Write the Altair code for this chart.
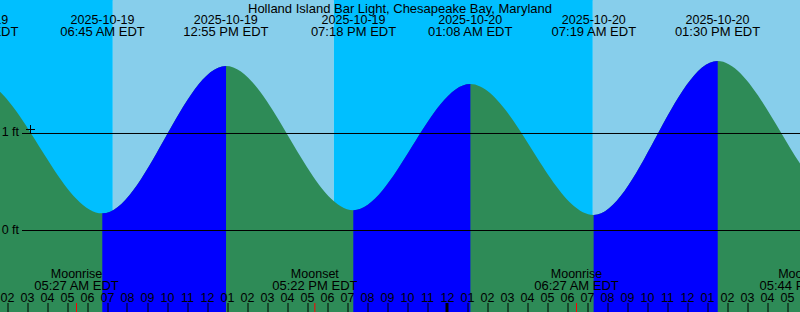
import altair as alt
import pandas as pd
from datetime import datetime

# ---------------- data ----------------
TITLE = "Holland Island Bar Light, Chesapeake Bay, Maryland"
DAY0 = "2025-10-19 12:00:00 AM"
VIEW_START = "2025-10-19 01:37:30 AM"
VIEW_END = "2025-10-20 05:37:30 PM"

TIDE_DATES = ["2025-10-19", "2025-10-19", "2025-10-19", "2025-10-19",
              "2025-10-20", "2025-10-20", "2025-10-20", "2025-10-20"]
TIDE_TIMES = ["12:26 AM EDT", "06:45 AM EDT", "12:55 PM EDT", "07:18 PM EDT",
              "01:08 AM EDT", "07:19 AM EDT", "01:30 PM EDT", "07:50 PM EDT"]
TIDE_FEET = [1.56, 0.177, 1.696, 0.21, 1.51, 0.16, 1.747, 0.28]

MOON_DATES = ["2025-10-19", "2025-10-19", "2025-10-20", "2025-10-20"]
MOON_TIMES = ["05:27 AM EDT", "05:22 PM EDT", "06:27 AM EDT", "05:44 PM EDT"]
MOON_EVENTS = ["Moonrise", "Moonset", "Moonrise", "Moonset"]

SUN_DATES = ["2025-10-19", "2025-10-19", "2025-10-20"]
SUN_TIMES = ["07:16 AM EDT", "06:19 PM EDT", "07:16 AM EDT"]
SUN_EVENTS = ["Sunrise", "Sunset", "Sunrise"]

LEVEL_LINES = [0, 1]
NOW_DATE, NOW_TIME, NOW_FEET = "2025-10-19", "03:09 AM EDT", 1.041
Y_DOMAIN = [-0.840, 2.376]
HOUR_TICKS = list(range(2, 42))

# colours
NIGHT = "#00BFFF"
DAY = "#87CEEB"
FALLING = "#2E8B57"
RISING = "#0000FF"
FONT = "Liberation Sans"
FS = 12.5
FS_TIME = 13

W, H = 800, 312


def hours(date, tm):
    d0 = datetime.strptime(DAY0, "%Y-%m-%d %I:%M:%S %p")
    dt = datetime.strptime(f"{date} {tm.replace(' EDT', '')}", "%Y-%m-%d %I:%M %p")
    return (dt - d0).total_seconds() / 3600.0


def hours_s(s):
    d0 = datetime.strptime(DAY0, "%Y-%m-%d %I:%M:%S %p")
    return (datetime.strptime(s, "%Y-%m-%d %I:%M:%S %p") - d0).total_seconds() / 3600.0


x0, x1 = hours_s(VIEW_START), hours_s(VIEW_END)
base = Y_DOMAIN[0]

tide_h = [hours(d, t) for d, t in zip(TIDE_DATES, TIDE_TIMES)]

# sky bands
sun_h = [hours(d, t) for d, t in zip(SUN_DATES, SUN_TIMES)]
edges = [x0 - 2] + sun_h + [x1 + 2]
sky = pd.DataFrame({
    "h": edges[:-1],
    "h2": edges[1:],
    "c": [NIGHT if ev == "Sunrise" else DAY for ev in SUN_EVENTS] + [DAY if SUN_EVENTS[-1] == "Sunrise" else NIGHT],
})

# whole water body (falling colour) through all extrema, flat at both ends
full = pd.DataFrame({
    "h": [tide_h[0] - 1] + tide_h + [tide_h[-1] + 1],
    "ft": [TIDE_FEET[0]] + TIDE_FEET + [TIDE_FEET[-1]],
})
full["base"] = base

# rising segments (low -> high), each pinned flat at its ends
EPS = 0.01
rows = []
for i in range(len(tide_h) - 1):
    if TIDE_FEET[i + 1] > TIDE_FEET[i]:
        a, b = tide_h[i], tide_h[i + 1]
        ya, yb = TIDE_FEET[i], TIDE_FEET[i + 1]
        for hh, yy in [(a - EPS, ya), (a, ya), (b, yb), (b + EPS, yb)]:
            rows.append({"h": hh, "ft": yy, "seg": i, "base": base})
rising = pd.DataFrame(rows)

tides = pd.DataFrame({"h": tide_h, "date": TIDE_DATES, "time": TIDE_TIMES})
moons = pd.DataFrame({
    "h": [hours(d, t) for d, t in zip(MOON_DATES, MOON_TIMES)],
    "ev": MOON_EVENTS, "time": MOON_TIMES,
})
levels = pd.DataFrame({"ft": LEVEL_LINES})
now = pd.DataFrame({"h": [hours(NOW_DATE, NOW_TIME)], "ft": [NOW_FEET]})
title_df = pd.DataFrame({"t": [TITLE]})

xs = alt.Scale(domain=[x0, x1], nice=False, zero=False)
ys = alt.Scale(domain=Y_DOMAIN, nice=False, zero=False)

x_axis = alt.Axis(
    orient="top", offset=-H, values=HOUR_TICKS, title=None, domain=False, grid=False,
    tickSize=9, tickColor="black",
    tickWidth=alt.condition("datum.value % 24 == 0", alt.value(3), alt.value(1)),
    labelExpr="(datum.value % 12 == 0) ? '12' : ((datum.value % 12 < 10 ? '0' : '') + (datum.value % 12))",
    labelFont=FONT, labelFontSize=FS, labelColor="black", labelBaseline="alphabetic",
    labelPadding=1, labelOverlap=False, labelFlush=False, translate=0, zindex=2,
)
y_axis = alt.Axis(
    orient="left", offset=-22, values=LEVEL_LINES, title=None, domain=False, grid=False,
    ticks=False, labelExpr="datum.value + ' ft'", labelFont=FONT, labelFontSize=FS,
    labelColor="black", labelBaseline="alphabetic", labelOffset=3, labelPadding=3,
    translate=0, zindex=2,
)


def X(f="h"):
    return alt.X(f"{f}:Q", scale=xs, axis=x_axis)


def Y(f="ft"):
    return alt.Y(f"{f}:Q", scale=ys, axis=y_axis)


sky_l = alt.Chart(sky).mark_rect().encode(
    x=X(), x2="h2:Q", y=alt.value(0), y2=alt.value(H),
    color=alt.Color("c:N", scale=None),
)
water = alt.Chart(full).mark_area(interpolate="monotone", color=FALLING).encode(
    x=X(), y=Y(), y2="base:Q",
)
rise = alt.Chart(rising).mark_area(interpolate="monotone", color=RISING).encode(
    x=X(), y=Y(), y2="base:Q", detail="seg:N",
)
lines = alt.Chart(levels).mark_rule(color="black", strokeWidth=1).encode(
    y=Y(), x=alt.value(22), x2=alt.value(W),
)
moon_ticks = alt.Chart(moons).mark_rule(color="#FF0000", strokeWidth=1).encode(
    x=X(), y=alt.value(303), y2=alt.value(H),
)
txt = dict(font=FONT, fontSize=FS, color="black", align="center", baseline="alphabetic")
txt_t = dict(txt, fontSize=FS_TIME)
tide_date = alt.Chart(tides).mark_text(**txt).encode(x=X(), y=alt.value(23.5), text="date:N")
tide_time = alt.Chart(tides).mark_text(**txt_t).encode(x=X(), y=alt.value(35.5), text="time:N")
moon_ev = alt.Chart(moons).mark_text(**txt).encode(x=X(), y=alt.value(278), text="ev:N")
moon_time = alt.Chart(moons).mark_text(**txt_t).encode(x=X(), y=alt.value(289.5), text="time:N")
title_l = alt.Chart(title_df).mark_text(font=FONT, fontSize=13, color="black",
                                        align="center", baseline="alphabetic").encode(
    x=alt.value(W / 2), y=alt.value(12.5), text="t:N")
now_l = alt.Chart(now).mark_point(
    shape="M-1,0L1,0M0,-1L0,1", size=81, filled=False, color="black", strokeWidth=1, opacity=1,
).encode(x=X(), y=Y())

chart = alt.layer(
    sky_l, water, rise, lines, moon_ticks, tide_date, tide_time, moon_ev, moon_time, title_l, now_l
).properties(
    width=W, height=H, autosize=alt.AutoSizeParams(type="none"), padding=0,
).configure_view(stroke=None).configure(background="white")

chart.save("out.html", embed_options={"renderer": "svg", "actions": False})
